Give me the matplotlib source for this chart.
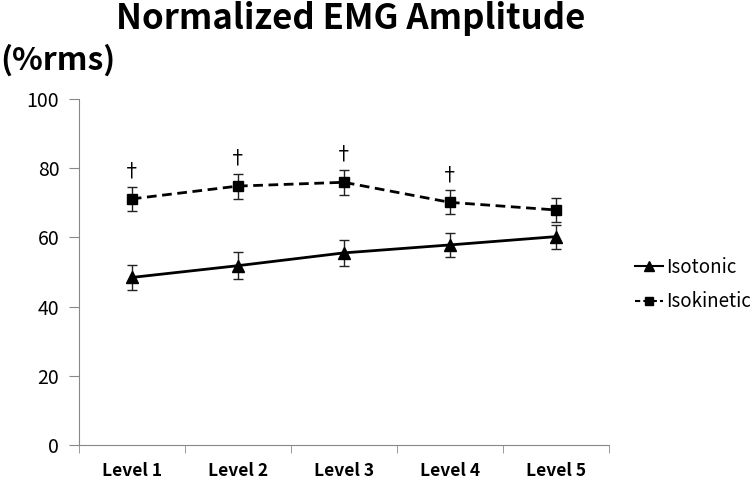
import matplotlib.pyplot as plt
from matplotlib.lines import Line2D

plt.rcParams['font.family'] = ['Noto Sans CJK KR', 'DejaVu Sans']

levels = ["Level 1", "Level 2", "Level 3", "Level 4", "Level 5"]
isotonic = [48.4, 51.8, 55.5, 57.8, 60.2]
isotonic_err = [3.7, 3.9, 3.7, 3.5, 3.5]
isokinetic = [71.1, 74.8, 75.9, 70.1, 67.9]
isokinetic_err = [3.5, 3.6, 3.6, 3.5, 3.5]
dagger = [True, True, True, True, False]

fig = plt.figure(figsize=(7.5, 4.8), dpi=100)
ax = fig.add_axes([0.105, 0.073, 0.707, 0.721])

x = list(range(1, len(levels) + 1))
ax.errorbar(x, isotonic, yerr=isotonic_err, color="black", marker="^", markersize=9,
            linestyle="-", linewidth=2, capsize=3.5, elinewidth=1, capthick=1, ecolor="#222222")
ax.errorbar(x, isokinetic, yerr=isokinetic_err, color="black", marker="s", markersize=7,
            linestyle=(0, (3.5, 2)), linewidth=2, capsize=3.5, elinewidth=1, capthick=1, ecolor="#222222")

for xi, v, e, d in zip(x, isokinetic, isokinetic_err, dagger):
    if d:
        ax.text(xi, v + e + 1.2, "†", ha="center", va="bottom", fontsize=14)

ax.set_xlim(0.5, 5.5)
ax.set_ylim(0, 100)
ax.set_yticks(range(0, 101, 20))
ax.set_xticks(x)
ax.set_xticklabels(levels, fontweight="bold", fontsize=12.5)
ax.set_xticks([i + 0.5 for i in range(0, 6)], minor=True)
ax.tick_params(axis="x", which="major", length=0, pad=12)
ax.tick_params(axis="x", which="minor", length=6, color="#888888")
ax.tick_params(axis="y", length=7, color="#888888", labelsize=14, pad=7)

for s in ["top", "right"]:
    ax.spines[s].set_visible(False)
for s in ["left", "bottom"]:
    ax.spines[s].set_color("#888888")

fig.text(0.468, 0.962, "Normalized EMG Amplitude", ha="center", va="center",
         fontsize=25, fontweight="bold")
fig.text(0.0, 0.875, "(%rms)", ha="left", va="center", fontsize=23, fontweight="bold")

handles = [Line2D([], [], color="black", marker="^", markersize=7, linewidth=1.5),
           Line2D([], [], color="black", marker="s", markersize=6, linewidth=1.5,
                  linestyle=(0, (2.5, 1.5)))]
fig.legend(handles, ["Isotonic", "Isokinetic"], loc="center left",
           bbox_to_anchor=(0.834, 0.407), frameon=False, fontsize=13.5,
           handlelength=1.5, handletextpad=0.15, labelspacing=0.72, borderpad=0)

fig.savefig("out.png", dpi=100)
